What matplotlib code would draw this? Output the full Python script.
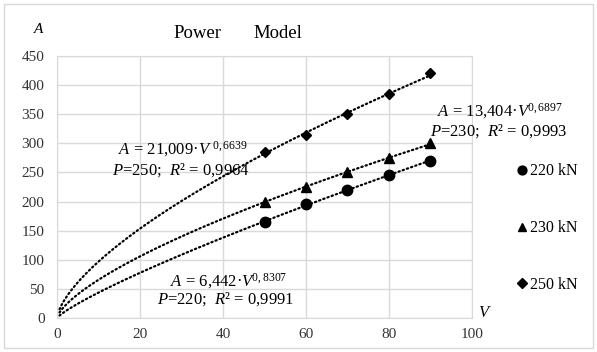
import numpy as np
import matplotlib.pyplot as plt
from matplotlib.patches import Rectangle

plt.rcParams['font.family'] = ['Liberation Serif', 'DejaVu Serif']
plt.rcParams['mathtext.fontset'] = 'custom'
plt.rcParams['mathtext.rm'] = 'Liberation Serif'
plt.rcParams['mathtext.it'] = 'Liberation Serif:italic'

# measured points
v = [50, 60, 70, 80, 90]
a_220 = [165, 195, 220, 245, 270]
a_230 = [200, 225, 250, 275, 300]
a_250 = [285, 315, 350, 385, 420]

# power trend coefficients A = k * V^n (from the chart labels)
k_220, n_220 = 6.442, 0.8307
k_230, n_230 = 13.404, 0.6897
k_250, n_250 = 21.009, 0.6639

labels = ["220 kN", "230 kN", "250 kN"]
markers = ["o", "^", "D"]


def main():
    fig = plt.figure(figsize=(5.97, 3.52), dpi=100)
    ax = fig.add_axes([0.0955, 0.0966, 0.6951, 0.7444])

    vv = np.linspace(0.6, 90, 200)
    series = [(a_220, k_220, n_220), (a_230, k_230, n_230), (a_250, k_250, n_250)]
    handles = []
    for (vals, k, n), m, lab in zip(series, markers, labels):
        ax.plot(vv, k * vv ** n, color="black", lw=1.6, ls=(0, (0.6, 1.4)),
                dash_capstyle="round")
        ms = 5.5 if m == "D" else 7.5
        h, = ax.plot(v, vals, ls="none", marker=m, ms=ms, color="black", label=lab)
        handles.append(h)

    ax.set_xlim(0, 100)
    ax.set_ylim(0, 450)
    ax.set_xticks(range(0, 101, 20))
    ax.set_yticks(range(0, 451, 50))
    ax.grid(True, color="#d9d9d9", lw=1)
    ax.set_axisbelow(True)
    for s in ax.spines.values():
        s.set_color("#d9d9d9")
    ax.tick_params(length=0, labelsize=11, labelcolor="#333333")
    ax.tick_params(axis="x", pad=7)
    ax.tick_params(axis="y", pad=9)

    fig.text(0.065, 0.915, "A", style="italic", fontsize=11, ha="center", va="center")
    fig.text(0.81, 0.11, "V", style="italic", fontsize=12, ha="center", va="center")
    fig.text(0.29, 0.906, "Power", fontsize=13.5, va="center")
    fig.text(0.424, 0.906, "Model", fontsize=13.5, va="center")

    fs = 12
    ax.text(0.147, 0.645, r"$A$ = 21,009·$V$ $^{0,6639}$", transform=ax.transAxes,
            fontsize=fs, ha="left", va="center")
    ax.text(0.133, 0.565, r"$P$=250;  $R$² = 0,9964", transform=ax.transAxes,
            fontsize=fs, ha="left", va="center")
    ax.text(0.916, 0.79, r"$A$ = 13,404·$V$$^{0,6897}$", transform=ax.transAxes,
            fontsize=fs, ha="left", va="center")
    ax.text(0.899, 0.714, r"$P$=230;  $R$² = 0,9993", transform=ax.transAxes,
            fontsize=fs, ha="left", va="center")
    ax.text(0.272, 0.14, r"$A$ = 6,442·$V$$^{0,8307}$", transform=ax.transAxes,
            fontsize=fs, ha="left", va="center")
    ax.text(0.241, 0.072, r"$P$=220;  $R$² = 0,9991", transform=ax.transAxes,
            fontsize=fs, ha="left", va="center")

    fig.legend(handles=handles, loc="center left", bbox_to_anchor=(0.843, 0.352),
               frameon=False, fontsize=11.5, labelspacing=2.55, handlelength=0.6,
               handletextpad=0.2, markerscale=0.85)

    fig.add_artist(Rectangle((0.007, 0.011), 0.986, 0.978, transform=fig.transFigure,
                             fill=False, edgecolor="#d9d9d9", lw=1))
    fig.savefig("out.png", dpi=100)


if __name__ == "__main__":
    main()
